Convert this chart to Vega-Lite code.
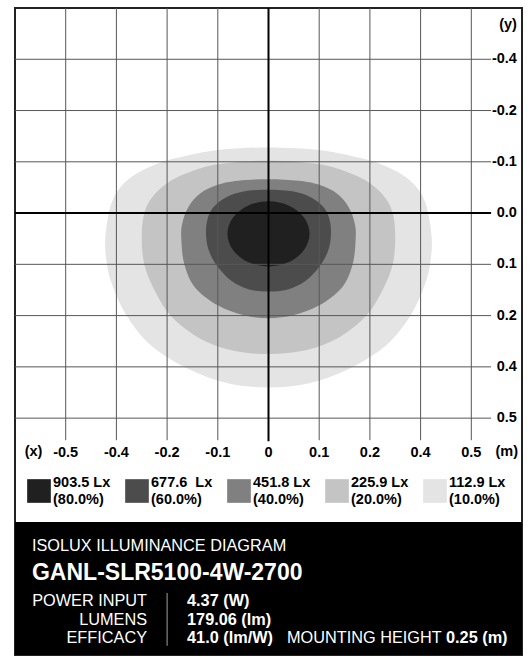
{
  "$schema": "https://vega.github.io/schema/vega-lite/v6.json",
  "width": 507,
  "height": 647,
  "autosize": {"type": "none"},
  "padding": {"left": 15, "top": 8, "right": 8, "bottom": 2},
  "background": "white",
  "config": {"font": "Liberation Sans", "view": {"stroke": "#222222", "strokeWidth": 2}},
  "data": {"values": [{}]},
  "datasets": {
    "contours": [
      {"k":5,"lv":"112.9 Lx|(10.0%)","i":0,"x":0,"y":-1.28},{"k":5,"lv":"112.9 Lx|(10.0%)","i":1,"x":1.0,"y":-1.23},{"k":5,"lv":"112.9 Lx|(10.0%)","i":2,"x":1.7,"y":-1.1},{"k":5,"lv":"112.9 Lx|(10.0%)","i":3,"x":2.12,"y":-0.99},{"k":5,"lv":"112.9 Lx|(10.0%)","i":4,"x":2.6,"y":-0.77},{"k":5,"lv":"112.9 Lx|(10.0%)","i":5,"x":2.9,"y":-0.53},{"k":5,"lv":"112.9 Lx|(10.0%)","i":6,"x":3.06,"y":-0.28},{"k":5,"lv":"112.9 Lx|(10.0%)","i":7,"x":3.15,"y":0.0},{"k":5,"lv":"112.9 Lx|(10.0%)","i":8,"x":3.22,"y":0.5},{"k":5,"lv":"112.9 Lx|(10.0%)","i":9,"x":3.2,"y":0.9},{"k":5,"lv":"112.9 Lx|(10.0%)","i":10,"x":3.1,"y":1.35},{"k":5,"lv":"112.9 Lx|(10.0%)","i":11,"x":2.8,"y":2.0},{"k":5,"lv":"112.9 Lx|(10.0%)","i":12,"x":2.3,"y":2.6},{"k":5,"lv":"112.9 Lx|(10.0%)","i":13,"x":1.56,"y":3.05},{"k":5,"lv":"112.9 Lx|(10.0%)","i":14,"x":0.8,"y":3.32},{"k":5,"lv":"112.9 Lx|(10.0%)","i":15,"x":0,"y":3.4},{"k":5,"lv":"112.9 Lx|(10.0%)","i":16,"x":-0.8,"y":3.32},{"k":5,"lv":"112.9 Lx|(10.0%)","i":17,"x":-1.56,"y":3.05},{"k":5,"lv":"112.9 Lx|(10.0%)","i":18,"x":-2.3,"y":2.6},{"k":5,"lv":"112.9 Lx|(10.0%)","i":19,"x":-2.8,"y":2.0},{"k":5,"lv":"112.9 Lx|(10.0%)","i":20,"x":-3.1,"y":1.35},{"k":5,"lv":"112.9 Lx|(10.0%)","i":21,"x":-3.2,"y":0.9},{"k":5,"lv":"112.9 Lx|(10.0%)","i":22,"x":-3.22,"y":0.5},{"k":5,"lv":"112.9 Lx|(10.0%)","i":23,"x":-3.15,"y":0.0},{"k":5,"lv":"112.9 Lx|(10.0%)","i":24,"x":-3.06,"y":-0.28},{"k":5,"lv":"112.9 Lx|(10.0%)","i":25,"x":-2.9,"y":-0.53},{"k":5,"lv":"112.9 Lx|(10.0%)","i":26,"x":-2.6,"y":-0.77},{"k":5,"lv":"112.9 Lx|(10.0%)","i":27,"x":-2.12,"y":-0.99},{"k":5,"lv":"112.9 Lx|(10.0%)","i":28,"x":-1.7,"y":-1.1},{"k":5,"lv":"112.9 Lx|(10.0%)","i":29,"x":-1.0,"y":-1.23},
      {"k":4,"lv":"225.9 Lx|(20.0%)","i":0,"x":0,"y":-1.02},{"k":4,"lv":"225.9 Lx|(20.0%)","i":1,"x":1.0,"y":-0.95},{"k":4,"lv":"225.9 Lx|(20.0%)","i":2,"x":1.6,"y":-0.78},{"k":4,"lv":"225.9 Lx|(20.0%)","i":3,"x":2.0,"y":-0.58},{"k":4,"lv":"225.9 Lx|(20.0%)","i":4,"x":2.3,"y":-0.3},{"k":4,"lv":"225.9 Lx|(20.0%)","i":5,"x":2.45,"y":0.0},{"k":4,"lv":"225.9 Lx|(20.0%)","i":6,"x":2.5,"y":0.45},{"k":4,"lv":"225.9 Lx|(20.0%)","i":7,"x":2.45,"y":1.0},{"k":4,"lv":"225.9 Lx|(20.0%)","i":8,"x":2.25,"y":1.5},{"k":4,"lv":"225.9 Lx|(20.0%)","i":9,"x":1.93,"y":2.0},{"k":4,"lv":"225.9 Lx|(20.0%)","i":10,"x":1.4,"y":2.42},{"k":4,"lv":"225.9 Lx|(20.0%)","i":11,"x":0.75,"y":2.67},{"k":4,"lv":"225.9 Lx|(20.0%)","i":12,"x":0,"y":2.75},{"k":4,"lv":"225.9 Lx|(20.0%)","i":13,"x":-0.75,"y":2.67},{"k":4,"lv":"225.9 Lx|(20.0%)","i":14,"x":-1.4,"y":2.42},{"k":4,"lv":"225.9 Lx|(20.0%)","i":15,"x":-1.93,"y":2.0},{"k":4,"lv":"225.9 Lx|(20.0%)","i":16,"x":-2.25,"y":1.5},{"k":4,"lv":"225.9 Lx|(20.0%)","i":17,"x":-2.45,"y":1.0},{"k":4,"lv":"225.9 Lx|(20.0%)","i":18,"x":-2.5,"y":0.45},{"k":4,"lv":"225.9 Lx|(20.0%)","i":19,"x":-2.45,"y":0.0},{"k":4,"lv":"225.9 Lx|(20.0%)","i":20,"x":-2.3,"y":-0.3},{"k":4,"lv":"225.9 Lx|(20.0%)","i":21,"x":-2.0,"y":-0.58},{"k":4,"lv":"225.9 Lx|(20.0%)","i":22,"x":-1.6,"y":-0.78},{"k":4,"lv":"225.9 Lx|(20.0%)","i":23,"x":-1.0,"y":-0.95},
      {"k":3,"lv":"451.8 Lx|(40.0%)","i":0,"x":0,"y":-0.66},{"k":3,"lv":"451.8 Lx|(40.0%)","i":1,"x":0.6,"y":-0.63},{"k":3,"lv":"451.8 Lx|(40.0%)","i":2,"x":1.0,"y":-0.55},{"k":3,"lv":"451.8 Lx|(40.0%)","i":3,"x":1.35,"y":-0.38},{"k":3,"lv":"451.8 Lx|(40.0%)","i":4,"x":1.58,"y":-0.12},{"k":3,"lv":"451.8 Lx|(40.0%)","i":5,"x":1.7,"y":0.2},{"k":3,"lv":"451.8 Lx|(40.0%)","i":6,"x":1.72,"y":0.5},{"k":3,"lv":"451.8 Lx|(40.0%)","i":7,"x":1.66,"y":1.0},{"k":3,"lv":"451.8 Lx|(40.0%)","i":8,"x":1.45,"y":1.45},{"k":3,"lv":"451.8 Lx|(40.0%)","i":9,"x":1.0,"y":1.8},{"k":3,"lv":"451.8 Lx|(40.0%)","i":10,"x":0.5,"y":1.99},{"k":3,"lv":"451.8 Lx|(40.0%)","i":11,"x":0,"y":2.05},{"k":3,"lv":"451.8 Lx|(40.0%)","i":12,"x":-0.5,"y":1.99},{"k":3,"lv":"451.8 Lx|(40.0%)","i":13,"x":-1.0,"y":1.8},{"k":3,"lv":"451.8 Lx|(40.0%)","i":14,"x":-1.45,"y":1.45},{"k":3,"lv":"451.8 Lx|(40.0%)","i":15,"x":-1.66,"y":1.0},{"k":3,"lv":"451.8 Lx|(40.0%)","i":16,"x":-1.72,"y":0.5},{"k":3,"lv":"451.8 Lx|(40.0%)","i":17,"x":-1.7,"y":0.2},{"k":3,"lv":"451.8 Lx|(40.0%)","i":18,"x":-1.58,"y":-0.12},{"k":3,"lv":"451.8 Lx|(40.0%)","i":19,"x":-1.35,"y":-0.38},{"k":3,"lv":"451.8 Lx|(40.0%)","i":20,"x":-1.0,"y":-0.55},{"k":3,"lv":"451.8 Lx|(40.0%)","i":21,"x":-0.6,"y":-0.63},
      {"k":2,"lv":"677.6\u00a0 Lx|(60.0%)","i":0,"x":0,"y":-0.455},{"k":2,"lv":"677.6\u00a0 Lx|(60.0%)","i":1,"x":0.5,"y":-0.42},{"k":2,"lv":"677.6\u00a0 Lx|(60.0%)","i":2,"x":0.85,"y":-0.3},{"k":2,"lv":"677.6\u00a0 Lx|(60.0%)","i":3,"x":1.1,"y":-0.1},{"k":2,"lv":"677.6\u00a0 Lx|(60.0%)","i":4,"x":1.21,"y":0.15},{"k":2,"lv":"677.6\u00a0 Lx|(60.0%)","i":5,"x":1.23,"y":0.45},{"k":2,"lv":"677.6\u00a0 Lx|(60.0%)","i":6,"x":1.17,"y":0.75},{"k":2,"lv":"677.6\u00a0 Lx|(60.0%)","i":7,"x":1.0,"y":1.05},{"k":2,"lv":"677.6\u00a0 Lx|(60.0%)","i":8,"x":0.72,"y":1.33},{"k":2,"lv":"677.6\u00a0 Lx|(60.0%)","i":9,"x":0.38,"y":1.49},{"k":2,"lv":"677.6\u00a0 Lx|(60.0%)","i":10,"x":0,"y":1.53},{"k":2,"lv":"677.6\u00a0 Lx|(60.0%)","i":11,"x":-0.38,"y":1.49},{"k":2,"lv":"677.6\u00a0 Lx|(60.0%)","i":12,"x":-0.72,"y":1.33},{"k":2,"lv":"677.6\u00a0 Lx|(60.0%)","i":13,"x":-1.0,"y":1.05},{"k":2,"lv":"677.6\u00a0 Lx|(60.0%)","i":14,"x":-1.17,"y":0.75},{"k":2,"lv":"677.6\u00a0 Lx|(60.0%)","i":15,"x":-1.23,"y":0.45},{"k":2,"lv":"677.6\u00a0 Lx|(60.0%)","i":16,"x":-1.21,"y":0.15},{"k":2,"lv":"677.6\u00a0 Lx|(60.0%)","i":17,"x":-1.1,"y":-0.1},{"k":2,"lv":"677.6\u00a0 Lx|(60.0%)","i":18,"x":-0.85,"y":-0.3},{"k":2,"lv":"677.6\u00a0 Lx|(60.0%)","i":19,"x":-0.5,"y":-0.42},
      {"k":1,"lv":"903.5 Lx|(80.0%)","i":0,"x":0,"y":-0.23},{"k":1,"lv":"903.5 Lx|(80.0%)","i":1,"x":0.405,"y":-0.145},{"k":1,"lv":"903.5 Lx|(80.0%)","i":2,"x":0.7,"y":0.088},{"k":1,"lv":"903.5 Lx|(80.0%)","i":3,"x":0.81,"y":0.405},{"k":1,"lv":"903.5 Lx|(80.0%)","i":4,"x":0.7,"y":0.722},{"k":1,"lv":"903.5 Lx|(80.0%)","i":5,"x":0.405,"y":0.955},{"k":1,"lv":"903.5 Lx|(80.0%)","i":6,"x":0,"y":1.04},{"k":1,"lv":"903.5 Lx|(80.0%)","i":7,"x":-0.405,"y":0.955},{"k":1,"lv":"903.5 Lx|(80.0%)","i":8,"x":-0.7,"y":0.722},{"k":1,"lv":"903.5 Lx|(80.0%)","i":9,"x":-0.81,"y":0.405},{"k":1,"lv":"903.5 Lx|(80.0%)","i":10,"x":-0.7,"y":0.088},{"k":1,"lv":"903.5 Lx|(80.0%)","i":11,"x":-0.405,"y":-0.145}
    ],
    "vg": [
      {"gx":-4,"label":"-0.5"},{"gx":-3,"label":"-0.4"},{"gx":-2,"label":"-0.2"},{"gx":-1,"label":"-0.1"},{"gx":0,"label":"0"},{"gx":1,"label":"0.1"},{"gx":2,"label":"0.2"},{"gx":3,"label":"0.4"},{"gx":4,"label":"0.5"}
    ],
    "hg": [
      {"gy":-3,"label":"-0.4"},{"gy":-2,"label":"-0.2"},{"gy":-1,"label":"-0.1"},{"gy":0,"label":"0.0"},{"gy":1,"label":"0.1"},{"gy":2,"label":"0.2"},{"gy":3,"label":"0.4"},{"gy":4,"label":"0.5"}
    ]
  },
  "layer": [
    {
      "data": {"name": "contours"},
      "transform": [{"filter": "datum.k == 5"}],
      "mark": {"type": "line", "interpolate": "cardinal-closed", "strokeWidth": 0},
      "encoding": {
        "x": {"field": "x", "type": "quantitative", "scale": {"domain": [-5, 5], "nice": false, "zero": false}, "axis": null},
        "y": {"field": "y", "type": "quantitative", "scale": {"domain": [-4, 8.62], "nice": false, "zero": false, "reverse": true}, "axis": null},
        "order": {"field": "i", "type": "quantitative"},
        "fill": {"field": "lv", "type": "nominal", "scale": {"domain": ["903.5 Lx|(80.0%)", "677.6\u00a0 Lx|(60.0%)", "451.8 Lx|(40.0%)", "225.9 Lx|(20.0%)", "112.9 Lx|(10.0%)"], "range": ["#202020", "#4c4c4c", "#808080", "#c4c4c4", "#e4e4e4"]},
          "legend": {"title": null, "orient": "none", "legendX": 12, "legendY": 471, "direction": "horizontal", "columns": 5, "symbolType": "square", "symbolSize": 560, "symbolStrokeWidth": 0, "symbolOpacity": 1, "labelExpr": "split(datum.label, '|')", "labelFont": "Liberation Sans", "labelFontSize": 14.5, "labelFontWeight": "bold", "labelColor": "black", "labelBaseline": "line-bottom", "labelOffset": 2, "columnPadding": 14, "labelLimit": 200, "padding": 0}}
      }
    },
    {
      "data": {"name": "contours"},
      "transform": [{"filter": "datum.k == 4"}],
      "mark": {"type": "line", "interpolate": "cardinal-closed", "strokeWidth": 0},
      "encoding": {
        "x": {"field": "x", "type": "quantitative", "scale": {"domain": [-5, 5], "nice": false, "zero": false}, "axis": null},
        "y": {"field": "y", "type": "quantitative", "scale": {"domain": [-4, 8.62], "nice": false, "zero": false, "reverse": true}, "axis": null},
        "order": {"field": "i", "type": "quantitative"},
        "fill": {"field": "lv", "type": "nominal", "scale": {"domain": ["903.5 Lx|(80.0%)", "677.6\u00a0 Lx|(60.0%)", "451.8 Lx|(40.0%)", "225.9 Lx|(20.0%)", "112.9 Lx|(10.0%)"], "range": ["#202020", "#4c4c4c", "#808080", "#c4c4c4", "#e4e4e4"]},
          "legend": {"title": null, "orient": "none", "legendX": 12, "legendY": 471, "direction": "horizontal", "columns": 5, "symbolType": "square", "symbolSize": 560, "symbolStrokeWidth": 0, "symbolOpacity": 1, "labelExpr": "split(datum.label, '|')", "labelFont": "Liberation Sans", "labelFontSize": 14.5, "labelFontWeight": "bold", "labelColor": "black", "labelBaseline": "line-bottom", "labelOffset": 2, "columnPadding": 14, "labelLimit": 200, "padding": 0}}
      }
    },
    {
      "data": {"name": "contours"},
      "transform": [{"filter": "datum.k == 3"}],
      "mark": {"type": "line", "interpolate": "cardinal-closed", "strokeWidth": 0},
      "encoding": {
        "x": {"field": "x", "type": "quantitative", "scale": {"domain": [-5, 5], "nice": false, "zero": false}, "axis": null},
        "y": {"field": "y", "type": "quantitative", "scale": {"domain": [-4, 8.62], "nice": false, "zero": false, "reverse": true}, "axis": null},
        "order": {"field": "i", "type": "quantitative"},
        "fill": {"field": "lv", "type": "nominal", "scale": {"domain": ["903.5 Lx|(80.0%)", "677.6\u00a0 Lx|(60.0%)", "451.8 Lx|(40.0%)", "225.9 Lx|(20.0%)", "112.9 Lx|(10.0%)"], "range": ["#202020", "#4c4c4c", "#808080", "#c4c4c4", "#e4e4e4"]},
          "legend": {"title": null, "orient": "none", "legendX": 12, "legendY": 471, "direction": "horizontal", "columns": 5, "symbolType": "square", "symbolSize": 560, "symbolStrokeWidth": 0, "symbolOpacity": 1, "labelExpr": "split(datum.label, '|')", "labelFont": "Liberation Sans", "labelFontSize": 14.5, "labelFontWeight": "bold", "labelColor": "black", "labelBaseline": "line-bottom", "labelOffset": 2, "columnPadding": 14, "labelLimit": 200, "padding": 0}}
      }
    },
    {
      "data": {"name": "contours"},
      "transform": [{"filter": "datum.k == 2"}],
      "mark": {"type": "line", "interpolate": "cardinal-closed", "strokeWidth": 0},
      "encoding": {
        "x": {"field": "x", "type": "quantitative", "scale": {"domain": [-5, 5], "nice": false, "zero": false}, "axis": null},
        "y": {"field": "y", "type": "quantitative", "scale": {"domain": [-4, 8.62], "nice": false, "zero": false, "reverse": true}, "axis": null},
        "order": {"field": "i", "type": "quantitative"},
        "fill": {"field": "lv", "type": "nominal", "scale": {"domain": ["903.5 Lx|(80.0%)", "677.6\u00a0 Lx|(60.0%)", "451.8 Lx|(40.0%)", "225.9 Lx|(20.0%)", "112.9 Lx|(10.0%)"], "range": ["#202020", "#4c4c4c", "#808080", "#c4c4c4", "#e4e4e4"]},
          "legend": {"title": null, "orient": "none", "legendX": 12, "legendY": 471, "direction": "horizontal", "columns": 5, "symbolType": "square", "symbolSize": 560, "symbolStrokeWidth": 0, "symbolOpacity": 1, "labelExpr": "split(datum.label, '|')", "labelFont": "Liberation Sans", "labelFontSize": 14.5, "labelFontWeight": "bold", "labelColor": "black", "labelBaseline": "line-bottom", "labelOffset": 2, "columnPadding": 14, "labelLimit": 200, "padding": 0}}
      }
    },
    {
      "data": {"name": "contours"},
      "transform": [{"filter": "datum.k == 1"}],
      "mark": {"type": "line", "interpolate": "cardinal-closed", "strokeWidth": 0},
      "encoding": {
        "x": {"field": "x", "type": "quantitative", "scale": {"domain": [-5, 5], "nice": false, "zero": false}, "axis": null},
        "y": {"field": "y", "type": "quantitative", "scale": {"domain": [-4, 8.62], "nice": false, "zero": false, "reverse": true}, "axis": null},
        "order": {"field": "i", "type": "quantitative"},
        "fill": {"field": "lv", "type": "nominal", "scale": {"domain": ["903.5 Lx|(80.0%)", "677.6\u00a0 Lx|(60.0%)", "451.8 Lx|(40.0%)", "225.9 Lx|(20.0%)", "112.9 Lx|(10.0%)"], "range": ["#202020", "#4c4c4c", "#808080", "#c4c4c4", "#e4e4e4"]},
          "legend": {"title": null, "orient": "none", "legendX": 12, "legendY": 471, "direction": "horizontal", "columns": 5, "symbolType": "square", "symbolSize": 560, "symbolStrokeWidth": 0, "symbolOpacity": 1, "labelExpr": "split(datum.label, '|')", "labelFont": "Liberation Sans", "labelFontSize": 14.5, "labelFontWeight": "bold", "labelColor": "black", "labelBaseline": "line-bottom", "labelOffset": 2, "columnPadding": 14, "labelLimit": 200, "padding": 0}}
      }
    },
    {
      "data": {"name": "vg"},
      "transform": [{"filter": "datum.gx != 0"}],
      "mark": {"type": "rule", "color": "#575757", "strokeWidth": 1},
      "encoding": {
        "x": {"field": "gx", "type": "quantitative", "scale": {"domain": [-5, 5], "nice": false, "zero": false}, "axis": null},
        "y": {"datum": -4, "type": "quantitative", "scale": {"domain": [-4, 8.62], "nice": false, "zero": false, "reverse": true}, "axis": null},
        "y2": {"datum": 4.43}
      }
    },
    {
      "data": {"name": "hg"},
      "transform": [{"filter": "datum.gy != 0"}],
      "mark": {"type": "rule", "color": "#575757", "strokeWidth": 1},
      "encoding": {
        "y": {"field": "gy", "type": "quantitative", "scale": {"domain": [-4, 8.62], "nice": false, "zero": false, "reverse": true}, "axis": null},
        "x": {"datum": -5, "type": "quantitative", "scale": {"domain": [-5, 5], "nice": false, "zero": false}, "axis": null},
        "x2": {"datum": 4.39}
      }
    },
    {
      "mark": {"type": "rule", "color": "black", "strokeWidth": 2},
      "encoding": {
        "x": {"datum": 0, "type": "quantitative", "scale": {"domain": [-5, 5], "nice": false, "zero": false}, "axis": null},
        "y": {"datum": -4, "type": "quantitative", "scale": {"domain": [-4, 8.62], "nice": false, "zero": false, "reverse": true}, "axis": null},
        "y2": {"datum": 4.45}
      }
    },
    {
      "mark": {"type": "rule", "color": "black", "strokeWidth": 2},
      "encoding": {
        "y": {"datum": 0, "type": "quantitative", "scale": {"domain": [-4, 8.62], "nice": false, "zero": false, "reverse": true}, "axis": null},
        "x": {"datum": -5, "type": "quantitative", "scale": {"domain": [-5, 5], "nice": false, "zero": false}, "axis": null},
        "x2": {"datum": 4.39}
      }
    },
    {
      "data": {"name": "vg"},
      "mark": {"type": "text", "fontSize": 14.5, "fontWeight": "bold", "color": "black", "align": "center", "baseline": "middle"},
      "encoding": {
        "x": {"field": "gx", "type": "quantitative", "scale": {"domain": [-5, 5], "nice": false, "zero": false}, "axis": null},
        "y": {"datum": 4.68, "type": "quantitative", "scale": {"domain": [-4, 8.62], "nice": false, "zero": false, "reverse": true}, "axis": null},
        "text": {"field": "label"}
      }
    },
    {
      "data": {"name": "hg"},
      "mark": {"type": "text", "fontSize": 14.5, "fontWeight": "bold", "color": "black", "align": "right", "baseline": "middle"},
      "encoding": {
        "y": {"field": "gy", "type": "quantitative", "scale": {"domain": [-4, 8.62], "nice": false, "zero": false, "reverse": true}, "axis": null},
        "x": {"datum": 4.9, "type": "quantitative", "scale": {"domain": [-5, 5], "nice": false, "zero": false}, "axis": null},
        "text": {"field": "label"}
      }
    },
    {
      "mark": {"type": "text", "text": "(x)", "fontSize": 14.5, "fontWeight": "bold", "color": "black", "align": "center", "baseline": "middle"},
      "encoding": {
        "x": {"datum": -4.635, "type": "quantitative", "scale": {"domain": [-5, 5], "nice": false, "zero": false}, "axis": null},
        "y": {"datum": 4.66, "type": "quantitative", "scale": {"domain": [-4, 8.62], "nice": false, "zero": false, "reverse": true}, "axis": null}
      }
    },
    {
      "mark": {"type": "text", "text": "(m)", "fontSize": 14.5, "fontWeight": "bold", "color": "black", "align": "center", "baseline": "middle"},
      "encoding": {
        "x": {"datum": 4.7, "type": "quantitative", "scale": {"domain": [-5, 5], "nice": false, "zero": false}, "axis": null},
        "y": {"datum": 4.66, "type": "quantitative", "scale": {"domain": [-4, 8.62], "nice": false, "zero": false, "reverse": true}, "axis": null}
      }
    },
    {
      "mark": {"type": "text", "text": "(y)", "fontSize": 14.5, "fontWeight": "bold", "color": "black", "align": "right", "baseline": "middle"},
      "encoding": {
        "x": {"datum": 4.9, "type": "quantitative", "scale": {"domain": [-5, 5], "nice": false, "zero": false}, "axis": null},
        "y": {"datum": -3.67, "type": "quantitative", "scale": {"domain": [-4, 8.62], "nice": false, "zero": false, "reverse": true}, "axis": null}
      }
    },
    {
      "mark": {"type": "rect", "color": "black"},
      "encoding": {
        "x": {"datum": -5, "type": "quantitative", "scale": {"domain": [-5, 5], "nice": false, "zero": false}, "axis": null},
        "x2": {"datum": 5},
        "y": {"datum": 6.025, "type": "quantitative", "scale": {"domain": [-4, 8.62], "nice": false, "zero": false, "reverse": true}, "axis": null},
        "y2": {"datum": 8.62}
      }
    },
    {
      "mark": {"type": "text", "text": "ISOLUX ILLUMINANCE DIAGRAM", "fontSize": 16.3, "color": "white", "align": "left", "baseline": "middle"},
      "encoding": {
        "x": {"datum": -4.665, "type": "quantitative", "scale": {"domain": [-5, 5], "nice": false, "zero": false}, "axis": null},
        "y": {"datum": 6.49, "type": "quantitative", "scale": {"domain": [-4, 8.62], "nice": false, "zero": false, "reverse": true}, "axis": null}
      }
    },
    {
      "mark": {"type": "text", "text": "GANL-SLR5100-4W-2700", "fontSize": 23, "fontWeight": "bold", "color": "white", "align": "left", "baseline": "alphabetic"},
      "encoding": {
        "x": {"datum": -4.665, "type": "quantitative", "scale": {"domain": [-5, 5], "nice": false, "zero": false}, "axis": null},
        "y": {"datum": 7.156, "type": "quantitative", "scale": {"domain": [-4, 8.62], "nice": false, "zero": false, "reverse": true}, "axis": null}
      }
    },
    {
      "mark": {"type": "text", "text": ["POWER INPUT", "LUMENS", "EFFICACY"], "lineHeight": 18.8, "fontSize": 16.3, "color": "white", "align": "right", "baseline": "alphabetic"},
      "encoding": {
        "x": {"datum": -2.396, "type": "quantitative", "scale": {"domain": [-5, 5], "nice": false, "zero": false}, "axis": null},
        "y": {"datum": 7.661, "type": "quantitative", "scale": {"domain": [-4, 8.62], "nice": false, "zero": false, "reverse": true}, "axis": null}
      }
    },
    {
      "mark": {"type": "text", "text": ["4.37 (W)", "179.06 (lm)", "41.0 (lm/W)"], "lineHeight": 18.8, "fontSize": 16.3, "fontWeight": "bold", "color": "white", "align": "left", "baseline": "alphabetic"},
      "encoding": {
        "x": {"datum": -1.607, "type": "quantitative", "scale": {"domain": [-5, 5], "nice": false, "zero": false}, "axis": null},
        "y": {"datum": 7.661, "type": "quantitative", "scale": {"domain": [-4, 8.62], "nice": false, "zero": false, "reverse": true}, "axis": null}
      }
    },
    {
      "mark": {"type": "text", "text": "MOUNTING HEIGHT", "fontSize": 16.3, "color": "white", "align": "left", "baseline": "alphabetic"},
      "encoding": {
        "x": {"datum": 0.365, "type": "quantitative", "scale": {"domain": [-5, 5], "nice": false, "zero": false}, "axis": null},
        "y": {"datum": 8.395, "type": "quantitative", "scale": {"domain": [-4, 8.62], "nice": false, "zero": false, "reverse": true}, "axis": null}
      }
    },
    {
      "mark": {"type": "text", "text": "0.25 (m)", "fontSize": 16.3, "fontWeight": "bold", "color": "white", "align": "left", "baseline": "alphabetic"},
      "encoding": {
        "x": {"datum": 3.501, "type": "quantitative", "scale": {"domain": [-5, 5], "nice": false, "zero": false}, "axis": null},
        "y": {"datum": 8.395, "type": "quantitative", "scale": {"domain": [-4, 8.62], "nice": false, "zero": false, "reverse": true}, "axis": null}
      }
    },
    {
      "mark": {"type": "rule", "color": "#a0a0a0", "strokeWidth": 1},
      "encoding": {
        "x": {"datum": -2.0, "type": "quantitative", "scale": {"domain": [-5, 5], "nice": false, "zero": false}, "axis": null},
        "y": {"datum": 7.41, "type": "quantitative", "scale": {"domain": [-4, 8.62], "nice": false, "zero": false, "reverse": true}, "axis": null},
        "y2": {"datum": 8.44}
      }
    }
  ]
}
